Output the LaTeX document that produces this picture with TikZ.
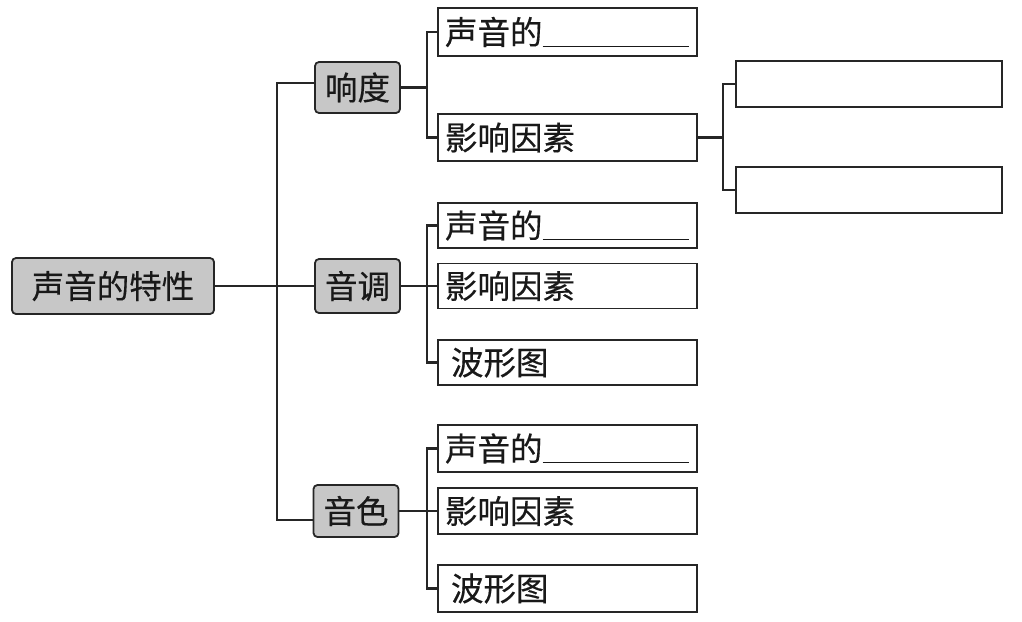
\documentclass[tikz,border=0pt]{standalone}
\usepackage{fontspec}
\newfontfamily\cjk{Noto Sans CJK SC}[FakeBold=0.4]
\begin{document}
\begin{tikzpicture}[x=1pt,y=-1pt,
  every node/.style={font=\cjk\fontsize{32.5}{35}\selectfont, text=black!90},
  graybox/.style={draw=black!85, line width=1.8pt, fill=black!22, rounded corners=4pt, inner sep=0pt, minimum width=85pt},
  leafbox/.style={draw=black!85, line width=1.8pt, minimum width=259pt, text width=245pt, inner xsep=7pt, inner ysep=0pt, align=left},
  blankbox/.style={draw=black!85, line width=1.8pt, minimum width=266pt, minimum height=46pt, inner sep=0pt},
  link/.style={draw=black!85, line width=2.2pt}]
\useasboundingbox (0,0) rectangle (1022,621);
% root and second level
\node[graybox, minimum width=202pt, minimum height=56pt] (root) at (113,286) {声音的特性};
\node[graybox, minimum height=51pt] (xd) at (357.5,87.5) {响度};
\node[graybox, minimum height=54pt] (yd) at (357.5,286) {音调};
\node[graybox, minimum height=52pt] (ys) at (356,511) {音色};
% leaves of 响度
\node[leafbox, minimum height=48pt] (a1) at (567.5,32) {声音的\underline{\hspace{146pt}}};
\node[leafbox, minimum height=47pt] (a2) at (567.5,137.5) {影响因素};
% leaves of 音调
\node[leafbox, minimum height=45pt] (b1) at (567.5,225.5) {声音的\underline{\hspace{146pt}}};
\node[leafbox, minimum height=45pt] (b2) at (567.5,286) {影响因素};
\node[leafbox, minimum height=45pt] (b3) at (567.5,362.5) {\hspace{6pt}波形图};
% leaves of 音色
\node[leafbox, minimum height=47pt] (c1) at (567.5,448.5) {声音的\underline{\hspace{146pt}}};
\node[leafbox, minimum height=46pt] (c2) at (567.5,511) {影响因素};
\node[leafbox, minimum height=47pt] (c3) at (567.5,588.5) {\hspace{6pt}波形图};
% blank answer boxes
\node[blankbox] (r1) at (869,84) {};
\node[blankbox] (r2) at (869,190) {};
% branch points
\coordinate (t) at (277,286);
\coordinate (bx1) at (427,87.5);
\coordinate (bx2) at (427,286);
\coordinate (bx4) at (427,511);
\coordinate (bx3) at (723,137.5);
% connectors
\draw[link] (root.east) -- (yd.west);
\draw[link] ([yshift=4.5pt]xd.west) -| (t) |- ([yshift=-9pt]ys.west);
\draw[link] (xd.east) -- (bx1);
\draw[link] (a1.west) -| (bx1) |- (a2.west);
\draw[link] (yd.east) -- (b2.west);
\draw[link] (b1.west) -| (bx2) |- (b3.west);
\draw[link] (ys.east) -- (c2.west);
\draw[link] (c1.west) -| (bx4) |- (c3.west);
\draw[link] (a2.east) -- (bx3);
\draw[link] (r1.west) -| (bx3) |- (r2.west);
\end{tikzpicture}
\end{document}
